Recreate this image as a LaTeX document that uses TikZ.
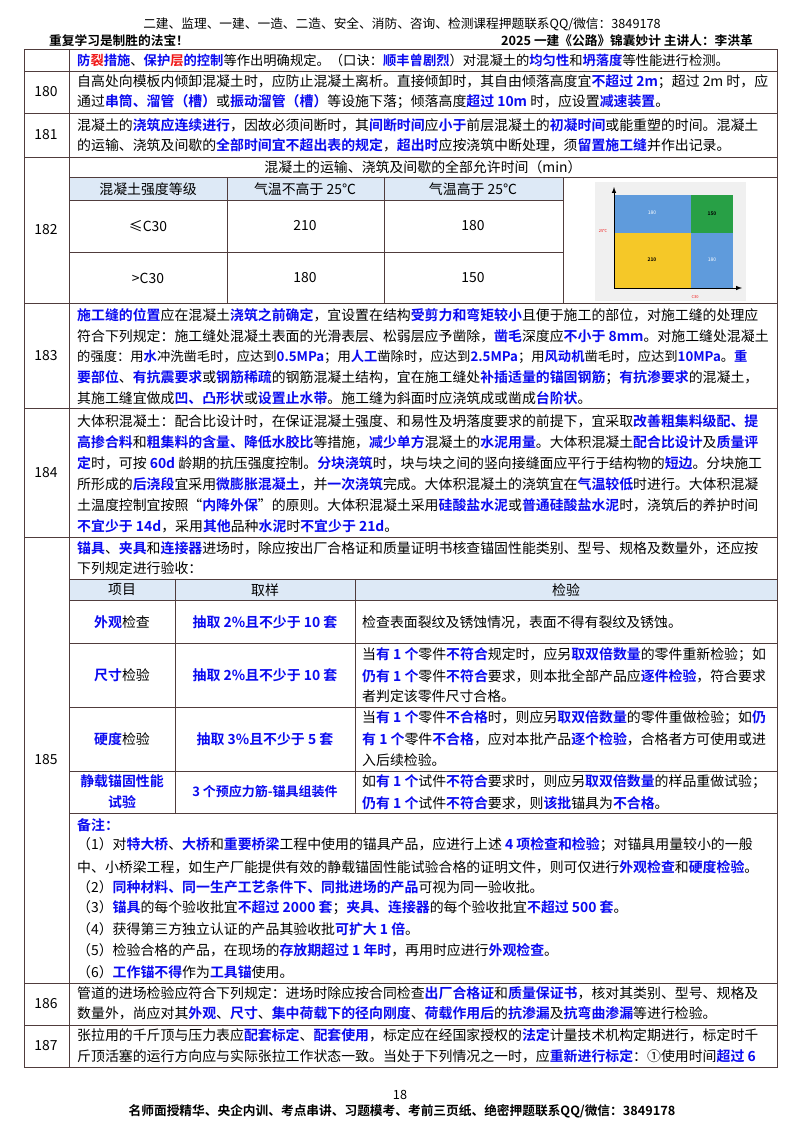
\documentclass[tikz,border=0pt]{standalone}
\usepackage{fontspec}
\setmainfont{Noto Sans CJK SC}[BoldFont={Noto Sans CJK SC Bold}]
\definecolor{kb}{RGB}{10,10,240}
\definecolor{kr}{RGB}{240,20,20}
\definecolor{hd}{RGB}{221,233,246}
\definecolor{gb}{RGB}{80,60,60}
\definecolor{cb}{RGB}{95,155,220}
\definecolor{cg}{RGB}{40,160,70}
\definecolor{cy}{RGB}{245,200,40}
\newcommand\B[1]{\textcolor{kb}{\bfseries #1}}
\newcommand\Rd[1]{\textcolor{kr}{\bfseries #1}}
\newcommand\tl[2]{\node[ln] at (77,#1) {#2};}
\newcommand\tls[2]{\node[ln,font=\fontsize{13.3}{16}\selectfont] at (77,#1) {#2};}
\newcommand\subl[2]{\node[ln] at (362,#1) {#2};}
\begin{document}
\begin{tikzpicture}[x=1pt,y=-1pt,
  ln/.style={anchor=west,inner sep=0pt,font=\fontsize{13.9}{16}\selectfont},
  ct/.style={inner sep=0pt,font=\fontsize{13.9}{16}\selectfont,align=center},
  num/.style={inner sep=0pt,font=\fontsize{13.9}{16}\selectfont},
  grid/.style={draw=gb,line width=0.9pt}]
\useasboundingbox[fill=white] (0,0) rectangle (800,1132);
% header
\node[ct,font=\fontsize{12.7}{14}\selectfont] (h1) at (402,24) {二建、监理、一建、一造、二造、安全、消防、咨询、检测课程押题联系QQ/微信：3849178};
\node[anchor=west,inner sep=0pt,font=\fontsize{12.7}{14}\selectfont\bfseries] (h2) at (49,41) {重复学习是制胜的法宝！};
\node[anchor=east,inner sep=0pt,font=\fontsize{12.7}{14}\selectfont\bfseries] (h3) at (753,41) {2025 一建《公路》锦囊妙计 主讲人：李洪革};
% header fills
\fill[hd] (69,177) rectangle (563,200);
\fill[hd] (69,579) rectangle (777,600);
% grid
\draw[grid] (24,49) rectangle (777,1067);
\draw[grid] (69,49) -- (69,1067);
\foreach \y in {71,113,157,303,408,537,983,1025} \draw[grid] (24,\y) -- (777,\y);
\draw[grid] (69,177) -- (777,177);
\draw[grid] (69,200) -- (563,200);
\draw[grid] (69,252) -- (563,252);
\draw[grid] (227,177) -- (227,303);
\draw[grid] (384,177) -- (384,303);
\draw[grid] (563,177) -- (563,303);
\foreach \y in {579,600,643,707,771,813} \draw[grid] (69,\y) -- (777,\y);
\draw[grid] (175,579) -- (175,813);
\draw[grid] (355,579) -- (355,813);
% numbers
\node[num] (n180) at (46,92) {180};
\node[num] (n181) at (46,135) {181};
\node[num] (n182) at (46,230) {182};
\node[num] (n183) at (46,356) {183};
\node[num] (n184) at (46,473) {184};
\node[num] (n185) at (46,760) {185};
\node[num] (n186) at (46,1004) {186};
\node[num] (n187) at (46,1046) {187};
% row 0
\tls{60}{\B{防}\Rd{裂}\B{措施}、\B{保护}\Rd{层}\B{的控制}等作出明确规定。（口诀：\B{顺丰曾剧烈}）对混凝土的\B{均匀性}和\B{坍落度}等性能进行检测。}
% 180
\tl{82}{自高处向模板内倾卸混凝土时，应防止混凝土离析。直接倾卸时，其自由倾落高度宜\B{不超过 2m}；超过 2m 时，应}
\tl{102}{通过\B{串筒、溜管（槽）}或\B{振动溜管（槽）}等设施下落；倾落高度\B{超过 10m} 时，应设置\B{减速装置}。}
% 181
\tl{125}{混凝土的\B{浇筑应连续进行}，因故必须间断时，其\B{间断时间}应\B{小于}前层混凝土的\B{初凝时间}或能重塑的时间。混凝土}
\tl{145}{的运输、浇筑及间歇的\B{全部时间宜不超出表的规定}，\B{超出时}应按浇筑中断处理，须\B{留置施工缝}并作出记录。}
% 182
\node[ct] (t182) at (423,167) {混凝土的运输、浇筑及间歇的全部允许时间（min）};
\node[ct] (c11) at (148,189) {混凝土强度等级};
\node[ct] (c12) at (305,189) {气温不高于 25℃};
\node[ct] (c13) at (473,189) {气温高于 25℃};
\node[ct] (c21) at (148,226) {≤C30};
\node[ct] (c22) at (305,226) {210};
\node[ct] (c23) at (473,226) {180};
\node[ct] (c31) at (148,278) {>C30};
\node[ct] (c32) at (305,278) {180};
\node[ct] (c33) at (473,278) {150};
% picture
\fill[black!6] (595,182) rectangle (746,301);
\fill[cb] (614,195) rectangle (691,233);
\fill[cg] (691,195) rectangle (733,233);
\fill[cy] (614,233) rectangle (691,288);
\fill[cb] (691,233) rectangle (733,288);
\node[font=\tiny,white] (p1) at (652,213) {180};
\node[font=\tiny\bfseries] (p2) at (712,214) {150};
\node[font=\tiny\bfseries] (p3) at (652,260) {210};
\node[font=\tiny,white] (p4) at (712,260) {180};
\coordinate (o) at (614,288);
\coordinate (ay) at (614,187);
\coordinate (ax) at (742,288);
\draw[-latex,line width=1pt] (o) -- (ay);
\draw[-latex,line width=1pt] (o) -- (ax);
\node[font=\fontsize{4}{5}\selectfont,kr] (p5) at (603,231) {25℃};
\node[font=\fontsize{4}{5}\selectfont,kr] (p6) at (695,297) {C30};
% 183
\tl{315}{\B{施工缝的位置}应在混凝土\B{浇筑之前确定}，宜设置在结构\B{受剪力和弯矩较小}且便于施工的部位，对施工缝的处理应}
\tl{336}{符合下列规定：施工缝处混凝土表面的光滑表层、松弱层应予凿除，\B{凿毛}深度应\B{不小于 8mm}。对施工缝处混凝土}
\tls{357}{的强度：用\B{水}冲洗凿毛时，应达到\B{0.5MPa}；用\B{人工}凿除时，应达到\B{2.5MPa}；用\B{风动机}凿毛时，应达到\B{10MPa}。\B{重}}
\tl{378}{\B{要部位}、\B{有抗震要求}或\B{钢筋稀疏}的钢筋混凝土结构，宜在施工缝处\B{补插适量的锚固钢筋}；\B{有抗渗要求}的混凝土，}
\tl{398}{其施工缝宜做成\B{凹、凸形状}或\B{设置止水带}。施工缝为斜面时应浇筑成或凿成\B{台阶状}。}
% 184
\tl{421}{大体积混凝土：配合比设计时，在保证混凝土强度、和易性及坍落度要求的前提下，宜采取\B{改善粗集料级配、提}}
\tl{442}{\B{高掺合料}和\B{粗集料的含量、降低水胶比}等措施，\B{减少单方}混凝土的\B{水泥用量}。大体积混凝土\B{配合比设计}及\B{质量评}}
\tl{463}{\B{定}时，可按 \B{60d} 龄期的抗压强度控制。\B{分块浇筑}时，块与块之间的竖向接缝面应平行于结构物的\B{短边}。分块施工}
\tl{484}{所形成的\B{后浇段}宜采用\B{微膨胀混凝土}，并\B{一次浇筑}完成。大体积混凝土的浇筑宜在\B{气温较低}时进行。大体积混凝}
\tl{505}{土温度控制宜按照“\B{内降外保}”的原则。大体积混凝土采用\B{硅酸盐水泥}或\B{普通硅酸盐水泥}时，浇筑后的养护时间}
\tl{526}{\B{不宜少于 14d}，采用\B{其他}品种\B{水泥}时\B{不宜少于 21d}。}
% 185
\tl{548}{\B{锚具}、\B{夹具}和\B{连接器}进场时，除应按出厂合格证和质量证明书核查锚固性能类别、型号、规格及数量外，还应按}
\tl{568}{下列规定进行验收：}
\node[ct] (s01) at (122,590) {项目};
\node[ct] (s02) at (265,590) {取样};
\node[ct] (s03) at (566,590) {检验};
\node[ct] (s11) at (122,622) {\B{外观}检查};
\node[ct] (s12) at (265,622) {\B{抽取 2\%且不少于 10 套}};
\subl{622}{检查表面裂纹及锈蚀情况，表面不得有裂纹及锈蚀。}
\node[ct] (s21) at (122,675) {\B{尺寸}检验};
\node[ct] (s22) at (265,675) {\B{抽取 2\%且不少于 10 套}};
\subl{655}{当\B{有 1 个}零件\B{不符合}规定时，应另\B{取双倍数量}的零件重新检验；如}
\subl{676}{\B{仍有 1 个}零件\B{不符合}要求，则本批全部产品应\B{逐件检验}，符合要求}
\subl{696}{者判定该零件尺寸合格。}
\node[ct] (s31) at (122,739) {\B{硬度}检验};
\node[ct] (s32) at (265,739) {\B{抽取 3\%且不少于 5 套}};
\subl{718}{当\B{有 1 个}零件\B{不合格}时，则应另\B{取双倍数量}的零件重做检验；如\B{仍}}
\subl{739}{\B{有 1 个}零件\B{不合格}，应对本批产品\B{逐个检验}，合格者方可使用或进}
\subl{760}{入后续检验。}
\node[ct,font=\fontsize{13.9}{21}\selectfont] (s41) at (122,792) {\B{静载锚固性能}\\\B{试验}};
\node[ct,font=\fontsize{13}{15}\selectfont] (s42) at (265,792) {\B{3 个预应力筋-锚具组装件}};
\subl{782}{如\B{有 1 个}试件\B{不符合}要求时，则应另\B{取双倍数量}的样品重做试验；}
\subl{803}{\B{仍有 1 个}试件\B{不符合}要求，则\B{该批}锚具为\B{不合格}。}
\tl{825}{\B{备注：}}
\tl{845}{（1）对\B{特大桥}、\B{大桥}和\B{重要桥梁}工程中使用的锚具产品，应进行上述 \B{4 项检查和检验}；对锚具用量较小的一般}
\tl{867}{中、小桥梁工程，如生产厂能提供有效的静载锚固性能试验合格的证明文件，则可仅进行\B{外观检查}和\B{硬度检验}。}
\tl{887}{（2）\B{同种材料、同一生产工艺条件下、同批进场的产品}可视为同一验收批。}
\tl{908}{（3）\B{锚具}的每个验收批宜\B{不超过 2000 套}；\B{夹具、连接器}的每个验收批宜\B{不超过 500 套}。}
\tl{929}{（4）获得第三方独立认证的产品其验收批\B{可扩大 1 倍}。}
\tl{950}{（5）检验合格的产品，在现场的\B{存放期超过 1 年时}，再用时应进行\B{外观检查}。}
\tl{972}{（6）\B{工作锚不得}作为\B{工具锚}使用。}
% 186
\tl{993}{管道的进场检验应符合下列规定：进场时除应按合同检查\B{出厂合格证}和\B{质量保证书}，核对其类别、型号、规格及}
\tl{1013}{数量外，尚应对其\B{外观}、\B{尺寸}、\B{集中荷载下的径向刚度}、\B{荷载作用后}的\B{抗渗漏}及\B{抗弯曲渗漏}等进行检验。}
% 187
\tl{1035}{张拉用的千斤顶与压力表应\B{配套标定}、\B{配套使用}，标定应在经国家授权的\B{法定}计量技术机构定期进行，标定时千}
\tl{1056}{斤顶活塞的运行方向应与实际张拉工作状态一致。当处于下列情况之一时，应\B{重新进行标定}：①使用时间\B{超过 6}}
% footer
\node[ct,font=\fontsize{12.7}{14}\selectfont] (pg) at (400,1095) {18};
\node[ct,font=\fontsize{12.7}{14}\selectfont\bfseries] (ft) at (402,1111) {名师面授精华、央企内训、考点串讲、习题模考、考前三页纸、绝密押题联系QQ/微信：3849178};
\end{tikzpicture}
\end{document}
